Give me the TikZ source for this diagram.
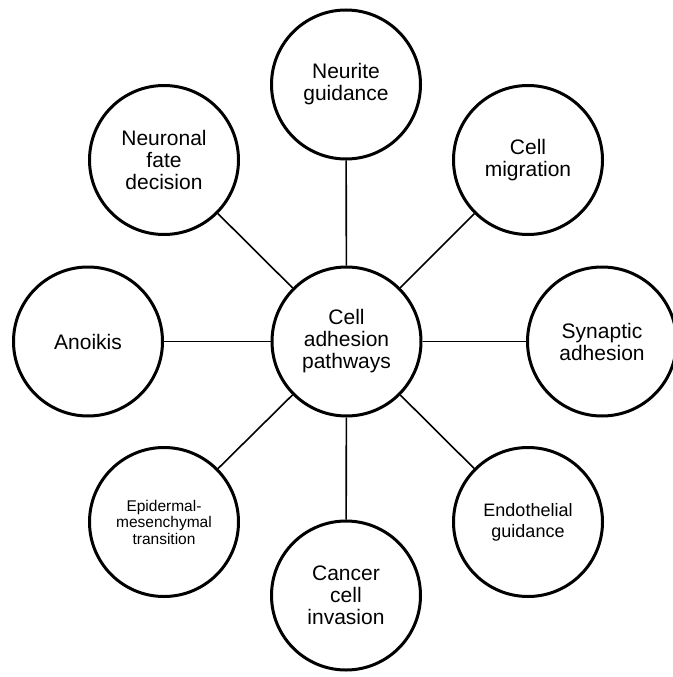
\documentclass[tikz,border=0pt]{standalone}
\usepackage{fontspec}
\setmainfont{Liberation Sans}
\begin{document}
\begin{tikzpicture}[x=1pt,y=-1pt,
  bubble/.style={circle,draw=black,line width=3pt,minimum size=149pt,inner sep=0pt,
    align=center,font=\fontsize{21}{22}\selectfont},
  link/.style={draw=black,line width=1.6pt}]
\useasboundingbox (0,0) rectangle (672,677);
\node[bubble] (c) at (346.5,341.5) {Cell\\adhesion\\pathways};
\node[bubble] (n) at (346,84.5) {Neurite\\guidance};
\node[bubble] (ne) at (528,160) {Cell\\migration};
\node[bubble] (e) at (602,341.5) {Synaptic\\adhesion};
\node[bubble,font=\fontsize{18}{21}\selectfont] (se) at (528,522) {Endothelial\\guidance};
\node[bubble] (s) at (346,595.5) {Cancer\\cell\\invasion};
\node[bubble,font=\fontsize{15.5}{16.5}\selectfont] (sw) at (164,522) {Epidermal-\\mesenchymal\\transition};
\node[bubble] (w) at (88,341.5) {Anoikis};
\node[bubble] (nw) at (164,160) {Neuronal\\fate\\decision};
\foreach \t in {n,ne,e,se,s,sw,w,nw}{\path[link] (c) -- (\t);}
\end{tikzpicture}
\end{document}
